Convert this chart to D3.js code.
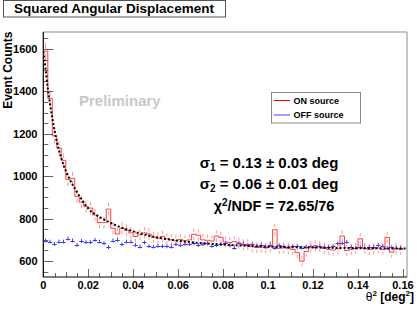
<!DOCTYPE html>
<html>
<head>
<meta charset="utf-8">
<script src="https://cdn.jsdelivr.net/npm/d3@7"></script>
<style>
  body { margin: 0; background: #fff; }
  svg { display: block; font-family: "Liberation Sans", Arial, sans-serif; }
</style>
</head>
<body>
<div id="chart"></div>
<script>
var w = 417, h = 309;

// binning of theta^2 (deg^2)
var binWidth = 0.002;
var nBins = 80;

// ON source counts per bin
var onCounts = [
  1590, 1367, 1190, 1132, 1075, 985, 990, 905, 878, 857,
  850, 817, 782, 781, 845, 755, 728, 755, 745, 733,
  716, 724, 733, 728, 712, 708, 716, 705, 700, 698,
  702, 696, 700, 726, 722, 700, 698, 695, 718, 712,
  690, 688, 692, 685, 676, 678, 668, 664, 666, 662,
  668, 748, 660, 662, 658, 655, 640, 600, 645, 668,
  672, 668, 660, 655, 652, 658, 718, 650, 655, 660,
  705, 660, 655, 658, 662, 655, 712, 642, 660, 655
];

// OFF source counts per bin (scaled)
var offCounts = [
  697, 692, 681, 692, 692, 706, 697, 676, 695, 689,
  689, 700, 692, 684, 666, 697, 700, 679, 692, 692,
  676, 668, 688, 670, 668, 672, 670, 669, 668, 680,
  676, 682, 680, 684, 676, 680, 684, 672, 675, 680,
  684, 676, 662, 684, 682, 676, 680, 672, 676, 668,
  678, 662, 674, 670, 666, 670, 672, 664, 668, 670,
  666, 671, 668, 666, 670, 683, 684, 690, 668, 662,
  666, 664, 666, 668, 676, 672, 662, 666, 664, 662
];
var offErr = 9;

// fitted curve
var fitX = [0, 0.001, 0.002, 0.003, 0.004, 0.006, 0.008, 0.01, 0.012, 0.015,
  0.02, 0.025, 0.03, 0.035, 0.04, 0.05, 0.06, 0.07, 0.08, 0.09, 0.1, 0.12, 0.14, 0.1618];
var fitY = [1587, 1505, 1415, 1340, 1275, 1165, 1085, 1025, 980, 925,
  848, 808, 780, 757, 740, 713, 696, 685, 678, 672, 668, 664, 661, 659];

var xTicks = [0, 0.02, 0.04, 0.06, 0.08, 0.1, 0.12, 0.14, 0.16];
var yTicks = [600, 800, 1000, 1200, 1400, 1600];

var statLines = ["σ|1| = 0.13 ± 0.03 deg", "σ|2| = 0.06 ± 0.01 deg"];

var margin = { left: 43.3, right: 407, top: 32, bottom: 277 };

var x = d3.scaleLinear().domain([0, 0.1618]).range([margin.left, margin.right]);
var y = d3.scaleLinear().domain([525, 1680]).range([margin.bottom, margin.top]);

var svg = d3.select("#chart").append("svg")
  .attr("width", w).attr("height", h);

svg.append("clipPath").attr("id", "frame")
  .append("rect")
  .attr("x", margin.left).attr("y", margin.top)
  .attr("width", margin.right - margin.left)
  .attr("height", margin.bottom - margin.top);

// frame (top / right)
svg.append("path")
  .attr("d", "M" + margin.left + "," + margin.top + "H" + margin.right + "V" + margin.bottom)
  .attr("fill", "none").attr("stroke", "#8c8c8c").attr("stroke-width", 1);

// ticks - ROOT style, drawn inside the frame
var ticksG = svg.append("g").attr("stroke", "#666").attr("stroke-width", 1);
d3.range(0, 0.1618, 0.005).forEach(function(t, i) {
  var len = i % 4 == 0 ? 8 : (i % 2 == 0 ? 5 : 4);
  var px = Math.round(x(t)) + 0.5;
  ticksG.append("line").attr("x1", px).attr("x2", px)
    .attr("y1", margin.bottom).attr("y2", margin.bottom - len);
});
d3.range(550, 1680, 50).forEach(function(t) {
  var len = t % 200 == 0 ? 10 : 5;
  var py = Math.round(y(t)) + 0.5;
  ticksG.append("line").attr("x1", margin.left).attr("x2", margin.left + len)
    .attr("y1", py).attr("y2", py);
});

// axis lines
svg.append("path")
  .attr("d", "M" + margin.left + "," + margin.top + "V" + margin.bottom + "H" + margin.right)
  .attr("fill", "none").attr("stroke", "#000").attr("stroke-width", 1.2);

// tick labels
svg.append("g").selectAll("text").data(xTicks).enter().append("text")
  .attr("x", function(d) { return x(d); })
  .attr("y", 288.5)
  .attr("text-anchor", "middle")
  .attr("font-size", 11).attr("font-weight", "bold")
  .text(function(d) { return d3.format("~g")(d); });

svg.append("g").selectAll("text").data(yTicks).enter().append("text")
  .attr("x", 37.5)
  .attr("y", function(d) { return y(d); })
  .attr("dy", "0.36em")
  .attr("text-anchor", "end")
  .attr("font-size", 11).attr("font-weight", "bold")
  .text(function(d) { return d; });

// axis titles
svg.append("text")
  .attr("transform", "translate(12,31.5) rotate(-90)")
  .attr("text-anchor", "end")
  .attr("font-size", 12).attr("font-weight", "bold")
  .text("Event Counts");

var xt = svg.append("text")
  .attr("x", 414).attr("y", 301)
  .attr("text-anchor", "end")
  .attr("font-size", 12).attr("font-weight", "bold");
xt.append("tspan").attr("font-weight", "normal").text("θ");
xt.append("tspan").attr("font-size", 8).attr("dy", -5).text("2");
xt.append("tspan").attr("dy", 5).text(" [deg");
xt.append("tspan").attr("font-size", 8).attr("dy", -5).text("2");
xt.append("tspan").attr("dy", 5).text("]");

// Preliminary watermark
svg.append("text")
  .attr("x", 79).attr("y", 106)
  .attr("font-size", 15).attr("font-weight", "bold")
  .attr("fill", "#c8c8c8")
  .text("Preliminary");

var plot = svg.append("g").attr("clip-path", "url(#frame)");

// OFF source crosses
var offG = plot.append("g").attr("stroke", "#3a3aff").attr("stroke-width", 1);
offCounts.forEach(function(v, i) {
  var x0 = x(i * binWidth), x1 = x((i + 1) * binWidth), xc = (x0 + x1) / 2;
  var yc = Math.round(y(v)) + 0.5;
  offG.append("line").attr("x1", x0).attr("x2", x1).attr("y1", yc).attr("y2", yc);
  offG.append("line").attr("x1", xc).attr("x2", xc)
    .attr("y1", y(v + offErr)).attr("y2", y(v - offErr));
});

// ON source histogram (step outline)
var stepPts = [];
onCounts.forEach(function(v, i) {
  stepPts.push([i * binWidth, v]);
  stepPts.push([(i + 1) * binWidth, v]);
});
var stepLine = d3.line()
  .x(function(d) { return x(d[0]); })
  .y(function(d) { return y(d[1]); });
plot.append("path")
  .attr("d", stepLine(stepPts))
  .attr("fill", "none").attr("stroke", "#ff2020").attr("stroke-width", 1)
  .attr("stroke-opacity", 0.85);

// ON error bars with gap around bin value
var errG = plot.append("g").attr("stroke", "#ff5050").attr("stroke-width", 1)
  .attr("stroke-opacity", 0.6);
onCounts.forEach(function(v, i) {
  var e = Math.sqrt(v);
  var xc = x((i + 0.5) * binWidth);
  var yc = y(v);
  errG.append("line").attr("x1", xc).attr("x2", xc)
    .attr("y1", y(v + e)).attr("y2", yc - 2.5);
  errG.append("line").attr("x1", xc).attr("x2", xc)
    .attr("y1", yc + 2.5).attr("y2", y(v - e));
});

// fit curve (dotted)
var fitLine = d3.line()
  .x(function(d, i) { return x(fitX[i]); })
  .y(function(d) { return y(d); })
  .curve(d3.curveMonotoneX);
plot.append("path")
  .attr("d", fitLine(fitY))
  .attr("fill", "none").attr("stroke", "#000").attr("stroke-width", 2)
  .attr("stroke-dasharray", "2,2");

// title box
svg.append("rect")
  .attr("x", 3.5).attr("y", 0.5).attr("width", 222).attr("height", 16.5)
  .attr("fill", "#fff").attr("stroke", "#555").attr("stroke-width", 1);
svg.append("text")
  .attr("x", 114).attr("y", 13.3)
  .attr("text-anchor", "middle")
  .attr("font-size", 13.5).attr("font-weight", "bold")
  .text("Squared Angular Displacement");

// legend
var leg = svg.append("g");
leg.append("rect")
  .attr("x", 271.5).attr("y", 92.5).attr("width", 89).attr("height", 30.5)
  .attr("fill", "#fff").attr("stroke", "#888").attr("stroke-width", 1);
var legItems = [{ label: "ON source", color: "#ff0000" }, { label: "OFF source", color: "#4040ff" }];
legItems.forEach(function(d, i) {
  var ly = 100.5 + i * 14.5;
  leg.append("line").attr("x1", 274).attr("x2", 290).attr("y1", ly).attr("y2", ly)
    .attr("stroke", d.color).attr("stroke-width", 1);
  leg.append("text").attr("x", 293.5).attr("y", ly).attr("dy", "0.35em")
    .attr("font-size", 9).attr("font-weight", "bold")
    .text(d.label);
});

// fit results
statLines.forEach(function(s, i) {
  var parts = s.split("|");
  var t = svg.append("text")
    .attr("x", 269).attr("y", 168 + i * 20.5)
    .attr("text-anchor", "middle")
    .attr("font-size", 15).attr("font-weight", "bold");
  t.append("tspan").text(parts[0]);
  t.append("tspan").attr("font-size", 10).attr("dy", 3).text(parts[1]);
  t.append("tspan").attr("dy", -3).text(parts[2]);
});
var chi = svg.append("text")
  .attr("x", 274).attr("y", 210.5)
  .attr("text-anchor", "middle")
  .attr("font-size", 14.5).attr("font-weight", "bold");
chi.append("tspan").text("χ");
chi.append("tspan").attr("font-size", 10).attr("dy", -5).text("2");
chi.append("tspan").attr("dy", 5).text("/NDF = 72.65/76");
</script>
</body>
</html>
